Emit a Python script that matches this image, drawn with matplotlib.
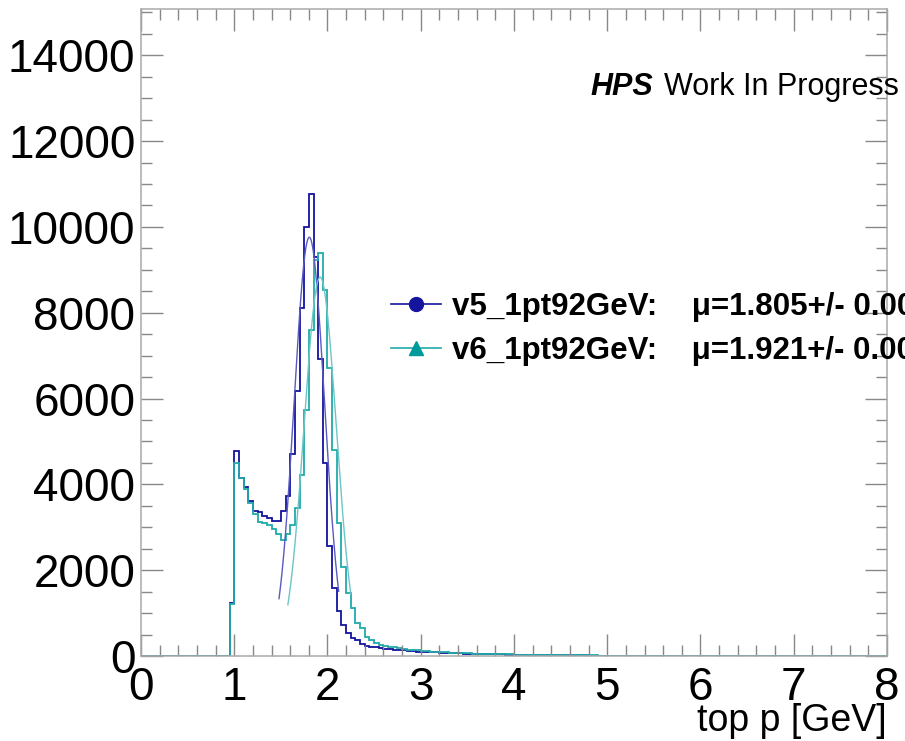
import numpy as np
import matplotlib
matplotlib.use('Agg')
import matplotlib.pyplot as plt
from matplotlib.lines import Line2D
from matplotlib.ticker import MultipleLocator

# histogram binning: 160 bins of 0.05 GeV from 0 to 8
bin_width = 0.05
n_bins = 160
first_filled = 0.95  # first non-empty bin low edge

# bin contents from 0.95 GeV upward
v5_counts = [1240, 4780, 4150, 3940, 3620, 3390, 3360, 3270, 3210, 3150,
             3150, 3390, 3730, 4700, 6180, 8100, 9990, 10760, 9290, 6930,
             4500, 2570, 1580, 1050, 720, 540, 430, 370, 280, 240,
             215, 200, 185, 170, 160, 145, 140, 130, 120, 115,
             105, 100, 94, 88, 84, 78, 74, 70, 66, 62,
             58, 55, 52, 49, 46, 43, 41, 38, 36, 34,
             32, 30, 28, 27, 25, 24, 22, 21, 20, 18,
             17, 16, 15, 14, 13, 12, 12, 11, 10, 9,
             9, 8, 8, 7, 7, 6, 6, 5, 5, 5,
             4, 4, 4, 3, 3, 3, 3, 2, 2, 2,
             2, 2, 1, 1, 1, 1, 1, 1]
v6_counts = [1210, 4490, 4140, 3900, 3560, 3300, 3130, 3090, 3050, 2950,
             2840, 2700, 2850, 3060, 3450, 4230, 5730, 7590, 9220, 9400,
             8520, 6715, 4810, 3090, 2080, 1475, 1110, 760, 645, 450,
             375, 300, 260, 240, 215, 200, 180, 165, 150, 140,
             130, 120, 112, 105, 98, 92, 86, 80, 75, 70,
             66, 62, 58, 55, 52, 49, 46, 43, 40, 38,
             36, 34, 32, 30, 28, 27, 25, 24, 22, 21,
             20, 19, 18, 17, 16, 15, 14, 13, 12, 11,
             11, 10, 9, 9, 8, 8, 7, 7, 6, 6,
             5, 5, 5, 4, 4, 4, 3, 3, 3, 3,
             2, 2, 2, 2, 1, 1, 1, 1, 1, 1]

# gaussian fit results: amplitude, mean, sigma, fit range
v5_fit = dict(amp=9760, mean=1.805, sigma=0.163, lo=1.48, hi=2.12)
v6_fit = dict(amp=8830, mean=1.921, sigma=0.173, lo=1.575, hi=2.25)

labels = ["v5_1pt92GeV:    \u03bc=1.805+/- 0.001",
          "v6_1pt92GeV:    \u03bc=1.921+/- 0.001"]

c_v5 = '#14149e'
c_v6 = '#22aaaa'
c_v5_fit = '#5a5ac0'
c_v6_fit = '#6cc6c6'


def fill_hist(vals):
    h = np.zeros(n_bins)
    i0 = int(round(first_filled / bin_width))
    h[i0:i0 + len(vals)] = vals
    return h


def gaus_curve(p):
    x = np.linspace(p['lo'], p['hi'], 300)
    return x, p['amp'] * np.exp(-0.5 * ((x - p['mean']) / p['sigma']) ** 2)


plt.rcParams['font.family'] = ['Liberation Sans', 'DejaVu Sans']
fig = plt.figure(figsize=(9.05, 7.41), dpi=100)
ax = fig.add_axes([0.1558, 0.1147, 0.8243, 0.8732])

edges = np.arange(n_bins + 1) * bin_width
ax.stairs(fill_hist(v5_counts), edges, color=c_v5, lw=1.3)
ax.stairs(fill_hist(v6_counts), edges, color=c_v6, lw=1.3)
for p, c in ((v5_fit, c_v5_fit), (v6_fit, c_v6_fit)):
    fx, fy = gaus_curve(p)
    ax.plot(fx, fy, color=c, lw=1.0)

ax.set_xlim(0, 8)
ax.set_ylim(0, 15080)
ax.xaxis.set_major_locator(MultipleLocator(1))
ax.xaxis.set_minor_locator(MultipleLocator(0.2))
ax.yaxis.set_major_locator(MultipleLocator(2000))
ax.yaxis.set_minor_locator(MultipleLocator(500))
ax.tick_params(which='both', direction='in', top=True, right=True,
               color='#888888', width=1.0)
ax.tick_params(which='major', length=16, labelsize=33)
ax.tick_params(which='minor', length=8)
ax.tick_params(axis='x', pad=7)
ax.tick_params(axis='y', pad=4)
for s in ax.spines.values():
    s.set_color('#aaaaaa')
    s.set_linewidth(1.1)

ax.set_xlabel('top p [GeV]', fontsize=27, ha='right', va='baseline')
ax.xaxis.set_label_coords(1.0, -(731 - 656) / 647)

handles = [Line2D([], [], color=c_v5, marker='o', ms=10, lw=1.2),
           Line2D([], [], color=c_v6, marker='^', ms=10, lw=1.2,
                  markerfacecolor='#009a9a', markeredgecolor='#009a9a')]
ax.legend(handles, labels, loc='upper left', bbox_to_anchor=(391 / 905, 1 - 292 / 741),
          bbox_transform=fig.transFigure, frameon=False,
          prop={'weight': 'bold', 'size': 22.5}, handlelength=1.6,
          handletextpad=0.35, labelspacing=0.45, borderpad=0, borderaxespad=0)

fig.text(590 / 905, 1 - 95 / 741, 'HPS', fontsize=22, fontweight='bold',
         fontstyle='italic', ha='left', va='baseline')
fig.text(664 / 905, 1 - 95 / 741, 'Work In Progress', fontsize=22,
         ha='left', va='baseline')

fig.savefig('out.png', dpi=100)
